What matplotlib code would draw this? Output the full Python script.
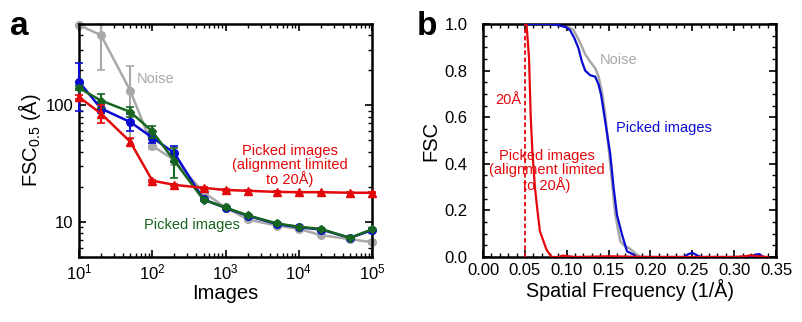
import matplotlib
matplotlib.use('Agg')
import numpy as np
import matplotlib.pyplot as plt
from matplotlib.ticker import MultipleLocator, LogLocator, NullFormatter

plt.rcParams['font.family'] = ['Liberation Sans', 'DejaVu Sans']
plt.rcParams['mathtext.default'] = 'regular'

# panel a: resolution vs number of images
images = [10, 20, 50, 100, 200, 500, 1000, 2000, 5000, 10000, 20000,
          50000, 100000]
noise_res = [490, 400, 134, 45, 34, 18, 13.3, 10.5, 9.3, 8.7, 7.7, 7.1, 6.7]
noise_lo = [0, 200, 82, 3, 3, 1, 0.3, 0.3, 0.2, 0.2, 0.2, 0.2, 0.2]
noise_hi = [0, 100, 82, 3, 3, 1, 0.3, 0.3, 0.2, 0.2, 0.2, 0.2, 0.2]
picked_blue = [159, 94, 72, 53, 39, 15.6, 13.2, 11.3, 9.6, 9.0, 8.6, 7.3, 8.5]
blue_err = [70, 8, 12, 5, 6, 0.5, 0.3, 0.3, 0.2, 0.2, 0.2, 0.2, 0.2]
picked_green = [141, 110, 88, 60, 33.4, 15.5, 13.3, 11.4, 9.7, 9.1, 8.7,
                7.3, 8.65]
green_err = [5, 15, 8, 7, 9.5, 0.5, 0.3, 0.3, 0.2, 0.2, 0.2, 0.2, 0.2]
limited_red = [118, 85, 48.8, 22.6, 20.8, 19.6, 18.8, 18.5, 18.1, 18.0, 18.0,
               17.8, 17.8]
red_err = [5, 15, 4, 0.5, 0.3, 0.3, 0.2, 0.2, 0.2, 0.2, 0.2, 0.2, 0.2]

# panel b: FSC curves
freq_blue = [0.05, 0.08, 0.09, 0.095, 0.1, 0.104, 0.109, 0.114, 0.118, 0.122,
             0.128, 0.134, 0.138, 0.141, 0.146, 0.152, 0.156, 0.16, 0.166,
             0.172, 0.176, 0.18, 0.183, 0.2, 0.24, 0.245, 0.25, 0.255, 0.26,
             0.3, 0.32, 0.325, 0.33, 0.335]
fsc_blue = [1.0, 1.0, 0.995, 0.99, 0.985, 0.973, 0.94, 0.896, 0.84, 0.80,
            0.78, 0.774, 0.74, 0.696, 0.58, 0.44, 0.296, 0.18, 0.096,
            0.024, 0.017, 0.01, 0.0, 0.0, 0.0, 0.012, 0.018, 0.008, 0.0,
            0.0, 0.0, 0.01, 0.012, 0.0]
freq_gray = [0.05, 0.08, 0.09, 0.1, 0.108, 0.116, 0.122, 0.128, 0.134, 0.138,
             0.142, 0.146, 0.15, 0.154, 0.158, 0.164, 0.169, 0.174, 0.18,
             0.184, 0.188]
fsc_gray = [1.0, 1.0, 0.998, 0.99, 0.975, 0.92, 0.87, 0.838, 0.81, 0.774,
            0.71, 0.61, 0.467, 0.324, 0.18, 0.067, 0.048, 0.039, 0.022,
            0.01, 0.0]
freq_red = [0.052, 0.055, 0.057, 0.059, 0.062, 0.065, 0.068, 0.072, 0.076,
            0.082, 0.09, 0.095, 0.1, 0.11, 0.15, 0.2, 0.25, 0.3, 0.315, 0.32,
            0.325, 0.34]
fsc_red = [1.0, 0.85, 0.6, 0.45, 0.3, 0.2, 0.11, 0.07, 0.03, 0.0, 0.0, 0.006,
           0.004, 0.0, 0.003, 0.0, 0.0, 0.0, 0.004, 0.008, 0.004, 0.0]
limit_freq = 0.05

c_gray = '#a8a8a8'
c_blue = '#0a0ad0'
c_green = '#17661f'
c_red = '#e3080c'

fig = plt.figure(figsize=(8.03, 3.22), dpi=100)
ax1 = fig.add_axes([0.0984, 0.2019, 0.365, 0.7236])
ax2 = fig.add_axes([0.6015, 0.2019, 0.365, 0.7236])

kw = dict(lw=1.8, ms=5.5, capsize=2.8, elinewidth=1.5, capthick=1.2,
          clip_on=False)
ax1.errorbar(images, noise_res, yerr=[noise_lo, noise_hi], color=c_gray,
             marker='o', zorder=2, **kw)
ax1.errorbar(images, picked_blue, yerr=blue_err, color=c_blue, marker='o',
             zorder=3, **kw)
ax1.errorbar(images, picked_green, yerr=green_err, color=c_green, marker='D',
             zorder=4, **dict(kw, ms=4.5))
ax1.errorbar(images, limited_red, yerr=red_err, color=c_red, marker='^',
             zorder=5, **kw)
ax1.set_xscale('log')
ax1.set_yscale('log')
ax1.set_xlim(10, 1e5)
ax1.set_ylim(5, 500)
ax1.set_yticks([10, 100])
ax1.set_yticklabels(['10', '100'])
ax1.yaxis.set_minor_formatter(NullFormatter())
ax1.xaxis.set_minor_locator(LogLocator(subs=np.arange(2, 10), numticks=20))
ax1.set_xlabel('Images', fontsize=14.5, labelpad=1)
ax1.set_ylabel('FSC$_{0.5}$ (Å)', fontsize=14.5, labelpad=2)
ax1.text(61, 169, 'Noise', color=c_gray, fontsize=10.5, va='center')
ax1.text(7600, 30.5, 'Picked images\n(alignment limited\nto 20Å)',
         color=c_red, fontsize=10.5, ha='center', va='center',
         linespacing=1.0)
ax1.text(345, 9.4, 'Picked images', color=c_green, fontsize=10.5,
         ha='center', va='center')

ax2.plot(freq_gray, fsc_gray, color=c_gray, lw=1.8, zorder=2)
ax2.plot(freq_blue, fsc_blue, color=c_blue, lw=1.6, zorder=3)
ax2.plot(freq_red, fsc_red, color=c_red, lw=1.6, zorder=4)
ax2.axvline(limit_freq, color=c_red, lw=1.3, ls=(0, (2.5, 1.5)), zorder=4)
ax2.set_xlim(0, 0.35)
ax2.set_ylim(0, 1.0)
ax2.xaxis.set_major_locator(MultipleLocator(0.05))
ax2.xaxis.set_minor_locator(MultipleLocator(0.01))
ax2.yaxis.set_major_locator(MultipleLocator(0.2))
ax2.yaxis.set_minor_locator(MultipleLocator(0.05))
ax2.set_xticklabels(['%.2f' % v for v in ax2.get_xticks()])
ax2.set_yticklabels(['%.1f' % v for v in ax2.get_yticks()])
ax2.set_xlabel('Spatial Frequency (1/Å)', fontsize=14.2, labelpad=1)
ax2.set_ylabel('FSC', fontsize=14.5, labelpad=3)
ax2.text(0.162, 0.846, 'Noise', color=c_gray, fontsize=10.5,
         ha='center', va='center')
ax2.text(0.2155, 0.553, 'Picked images', color=c_blue, fontsize=10.5,
         ha='center', va='center')
ax2.text(0.0305, 0.674, '20Å', color=c_red, fontsize=10.5,
         ha='center', va='center')
ax2.text(0.0763, 0.367, 'Picked images\n(alignment limited\nto 20Å)',
         color=c_red, fontsize=10.5, ha='center', va='center',
         linespacing=1.0)

for ax in (ax1, ax2):
    for s in ax.spines.values():
        s.set_linewidth(1.8)
    ax.tick_params(which='both', direction='in', top=True, right=True,
                   labelsize=12)
    ax.tick_params(which='major', length=5, width=1.2, pad=4)
    ax.tick_params(which='minor', length=3, width=1.0)
ax2.tick_params(axis='y', which='major', pad=11)

fig.text(0.013, 0.89, 'a', fontsize=24, fontweight='bold')
fig.text(0.519, 0.89, 'b', fontsize=24, fontweight='bold')

plt.savefig('out.png', dpi=100)
